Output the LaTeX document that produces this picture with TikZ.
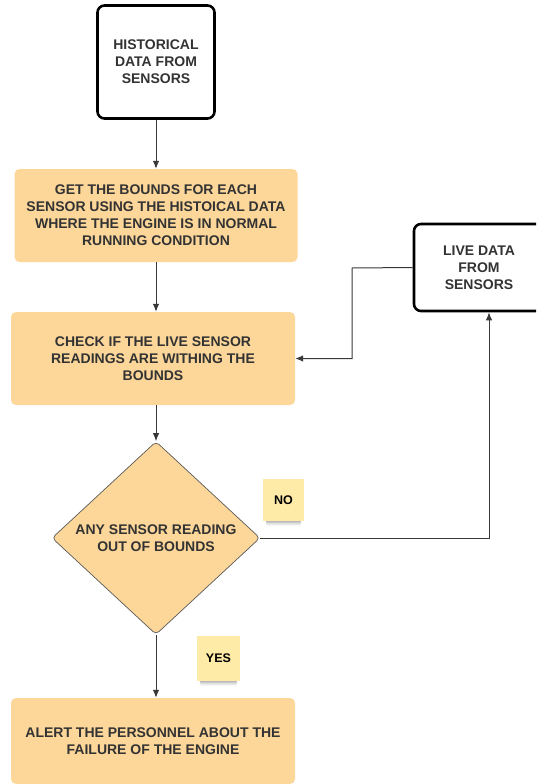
\documentclass[tikz,border=0pt]{standalone}
\usepackage{fontspec}
\setmainfont{Liberation Sans}
\usetikzlibrary{arrows.meta,shapes.geometric,backgrounds}

\definecolor{procfill}{HTML}{FDD79A}
\definecolor{notefill}{HTML}{FFEBA8}
\definecolor{inktext}{HTML}{333333}
\definecolor{linkcol}{HTML}{383838}

\tikzset{
  every node/.style={font=\bfseries\fontsize{14}{17}\selectfont, text=inktext, align=center},
  ioblock/.style={draw=black, line width=2.6pt, fill=white, rounded corners=7pt, inner sep=0pt},
  procblock/.style={fill=procfill, draw=none, rounded corners=5pt, inner sep=0pt},
  decblock/.style={shape=diamond, aspect=1.08, fill=procfill, draw=gray!70!black, line width=0.7pt,
                   rounded corners=4pt, inner sep=0pt},
  notelabel/.style={fill=notefill, draw=none, inner sep=0pt, text=black,
                    font=\bfseries\fontsize{12.5}{15}\selectfont},
  link/.style={draw=linkcol, line width=1pt},
  arrowlink/.style={link, -{Latex[length=8pt,width=6.5pt]}},
}

\begin{document}
\begin{tikzpicture}[x=1pt, y=-1pt]
  \useasboundingbox (0,0) rectangle (536,784);
  \clip (0,0) rectangle (536,784);

  % input blocks
  \node[ioblock, minimum width=117pt, minimum height=113pt] (hist) at (156,62)
    {HISTORICAL\\DATA FROM\\SENSORS};
  \node[ioblock, minimum width=130pt, minimum height=87pt] (live) at (479,267.5)
    {LIVE DATA\\FROM\\SENSORS};

  % process column
  \node[procblock, minimum width=283pt, minimum height=93pt] (bounds) at (156,215.5)
    {GET THE BOUNDS FOR EACH\\SENSOR USING THE HISTOICAL DATA\\WHERE THE ENGINE IS IN NORMAL\\RUNNING CONDITION};
  \node[procblock, minimum width=284pt, minimum height=93pt] (check) at (153,358.5)
    {CHECK IF THE LIVE SENSOR\\READINGS ARE WITHING THE\\BOUNDS};
  \node[decblock, minimum width=208pt, minimum height=193pt] (dec) at (156,538)
    {ANY SENSOR READING\\OUT OF BOUNDS};
  \node[procblock, minimum width=284pt, minimum height=86pt] (alert) at (153,741)
    {ALERT THE PERSONNEL ABOUT THE\\FAILURE OF THE ENGINE};

  % branch labels
  \node[notelabel, minimum width=41pt, minimum height=42pt] (nolab) at (283.5,500) {NO};
  \node[notelabel, minimum width=43pt, minimum height=45pt] (yeslab) at (218.5,658.5) {YES};

  % soft shadows under the sticky labels
  \begin{scope}[on background layer]
    \foreach \n in {nolab,yeslab}{
      \foreach \d/\op in {1/0.10,2/0.08,3/0.06,4/0.04,5/0.03}{
        \fill[black, opacity=\op, rounded corners=2pt]
          ([xshift=3pt, yshift=4pt]\n.south west) rectangle ([xshift=-3pt, yshift=-\d pt]\n.south east);
      }
    }
  \end{scope}

  % connectors
  \coordinate (feedbend) at (352,268);
  \coordinate (noup) at (489,0);

  \draw[arrowlink] (hist.south) -- (hist.south |- bounds.north);
  \draw[arrowlink] (bounds.south) -- (bounds.south |- check.north);
  \draw[arrowlink] (check.south -| dec.north) -- (dec.north);
  \draw[arrowlink] (live.west) -- (feedbend) |- (check.east);
  \draw[arrowlink] (dec.east) -| (noup |- live.south);
  \draw[arrowlink] (dec.south) -- (dec.south |- alert.north);
\end{tikzpicture}
\end{document}
